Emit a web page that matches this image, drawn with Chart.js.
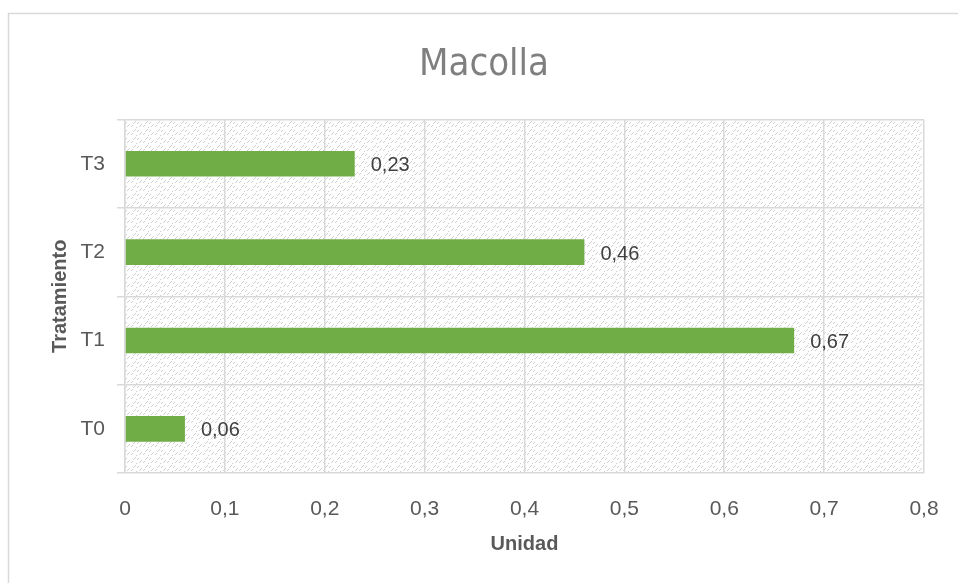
<!DOCTYPE html>
<html>
<head>
<meta charset="utf-8">
<script src="https://cdn.jsdelivr.net/npm/chart.js@4.4.1/dist/chart.umd.min.js"></script>
<style>
  html, body { margin: 0; padding: 0; background: #fff; }
  #wrap { width: 958px; height: 583px; }
</style>
</head>
<body>
<div id="wrap"><canvas id="myChart"></canvas></div>
<script>
// Datos del grafico
const categorias = ['T3', 'T2', 'T1', 'T0'];
const valores = [0.23, 0.46, 0.67, 0.06];
const etiquetas = ['0,23', '0,46', '0,67', '0,06'];

const ctx = document.getElementById('myChart').getContext('2d');

// Patron gris claro para el fondo del area del grafico
const tile = document.createElement('canvas');
tile.width = 12;
tile.height = 8;
const tctx = tile.getContext('2d');
tctx.fillStyle = '#ffffff';
tctx.fillRect(0, 0, 12, 8);
tctx.fillStyle = '#cfcfcf';
[[1, 3], [2, 2], [3, 1], [5, 3], [6, 2], [7, 6], [8, 5], [9, 4], [11, 6], [0, 5], [4, 7]].forEach(p => {
    tctx.fillRect(p[0], p[1], 1, 1);
});
const patron = ctx.createPattern(tile, 'repeat');

// Fondo con patron + borde exterior
const fondo = {
    id: 'fondo',
    beforeDraw(chart) {
        const c = chart.ctx;
        const a = chart.chartArea;
        c.save();
        c.strokeStyle = '#d9d9d9';
        c.lineWidth = 1.5;
        c.strokeRect(8.5, 13.5, 1000, 1000);
        c.fillStyle = patron;
        c.fillRect(a.left, a.top, a.right - a.left, a.bottom - a.top);
        c.restore();
    }
};

// Etiquetas de valor al final de cada barra
const valoresBarras = {
    id: 'valoresBarras',
    afterDatasetsDraw(chart) {
        const c = chart.ctx;
        const meta = chart.getDatasetMeta(0);
        c.save();
        c.font = "20px 'Liberation Sans', Arial, sans-serif";
        c.fillStyle = '#404040';
        c.textAlign = 'left';
        c.textBaseline = 'middle';
        meta.data.forEach((bar, i) => {
            c.fillText(etiquetas[i], bar.x + 16, bar.y + 2);
        });
        c.restore();
    }
};

const myChart = new Chart(ctx, {
    type: 'bar',
    data: {
        labels: categorias,
        datasets: [{
            label: 'Macolla',
            data: valores,
            backgroundColor: '#70ad47',
            borderWidth: 0,
            barPercentage: 0.29,
            categoryPercentage: 1
        }]
    },
    options: {
        indexAxis: 'y',
        responsive: true,
        maintainAspectRatio: false,
        animation: false,
        layout: {
            padding: { top: 13, left: 44, right: 34, bottom: 8 }
        },
        plugins: {
            legend: { display: false },
            tooltip: { enabled: false },
            title: {
                display: true,
                text: 'Macolla',
                color: '#7f7f7f',
                font: { size: 38, weight: 'normal', family: "'DejaVu Sans Condensed', 'DejaVu Sans', sans-serif" },
                padding: { top: 29, bottom: 32 }
            }
        },
        scales: {
            x: {
                min: 0,
                max: 0.8,
                ticks: {
                    stepSize: 0.1,
                    color: '#595959',
                    padding: 24,
                    font: { size: 21, family: "'Liberation Sans', Arial, sans-serif" },
                    callback: v => String(Math.round(v * 10) / 10).replace('.', ',')
                },
                grid: { color: '#d9d9d9', lineWidth: 1.5, drawTicks: false },
                border: { display: false },
                title: {
                    display: true,
                    text: 'Unidad',
                    color: '#595959',
                    font: { size: 20, weight: 'bold', family: "'Liberation Sans', Arial, sans-serif" },
                    padding: { top: 4, bottom: 19 }
                },
                afterFit: s => {
                    s.height = 102;
                    s.paddingLeft = 0;
                    s.paddingRight = 0;
                }
            },
            y: {
                ticks: {
                    color: '#595959',
                    padding: 12,
                    font: { size: 21, family: "'Liberation Sans', Arial, sans-serif" }
                },
                grid: { color: '#d9d9d9', lineWidth: 1.5, tickLength: 8, offset: true },
                border: { color: '#d9d9d9', width: 1.5 },
                title: {
                    display: true,
                    text: 'Tratamiento',
                    color: '#595959',
                    font: { size: 20, weight: 'bold', family: "'Liberation Sans', Arial, sans-serif" },
                    padding: { top: 4, bottom: 4 }
                },
                afterFit: s => { s.width = 81; }
            }
        }
    },
    plugins: [fondo, valoresBarras]
});
</script>
</body>
</html>
